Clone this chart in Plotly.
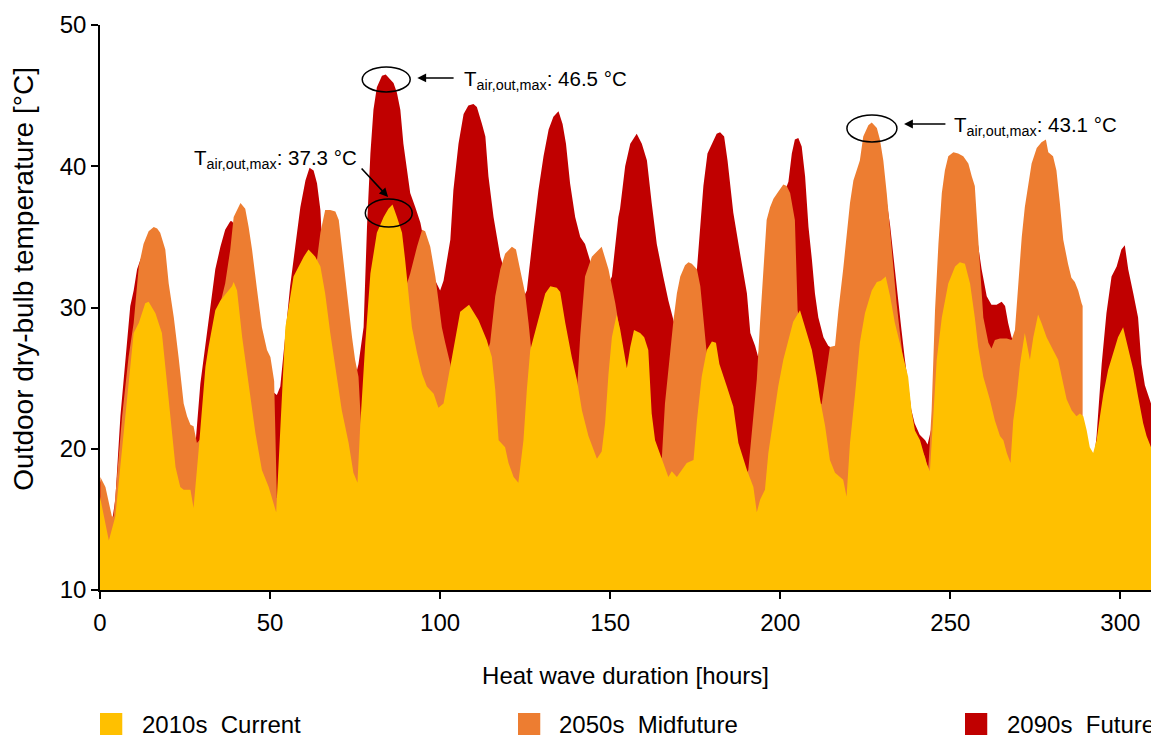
import plotly.graph_objects as go

# ---------------- data ----------------
hours_2010 = [0, 2.6, 4.5, 6.5, 8.4, 9.9, 11.4, 13.3, 14.3, 16.3, 18.2, 19.7, 20.7, 22.2, 23.6, 24.6, 26.6, 27.5,
              29.0, 31.0, 31.9, 33.9, 35.4, 37.3, 38.8, 39.3, 40.3, 41.8, 43.7, 45.7, 47.6, 49.6, 51.8,
              54.5, 56.9, 59.9, 61.3, 63.3, 64.8, 66.2, 67.7, 69.7, 71.1, 73.1, 74.5, 75.7, 76.5, 78.0, 79.5,
              81.4, 83.4, 84.8, 86.0, 87.3, 88.8, 89.7, 90.7, 91.7, 93.2, 94.7, 96.1, 98.1, 99.5, 101.0,
              103.5, 105.9, 108.5, 111.3, 113.7, 115.2, 116.2, 117.2, 119.1, 120.1, 121.6, 123.0, 124.5,
              125.5, 126.5, 128.9, 130.9, 132.4, 134.3, 135.3, 136.8, 138.7, 140.2, 141.7, 143.6, 146.1,
              147.5, 148.5, 149.5, 150.5, 151.9, 152.9, 154.9, 155.9, 157.0, 158.8, 160.0, 161.2, 162.2,
              163.2, 165.2, 167.1, 168.1, 169.6, 172.5, 174.5, 175.5, 176.9, 178.4, 179.9, 181.1, 182.1,
              184.3, 186.2, 187.7, 190.2, 192.1, 193.1, 194.1, 195.5, 196.5, 198.0, 199.4, 200.9, 202.4,
              203.8, 205.8, 207.3, 209.3, 210.7, 211.7, 213.2, 214.6, 216.1, 218.5, 219.5, 220.5, 222.0,
              223.4, 224.9, 226.9, 228.4, 229.6, 231.0, 232.3, 233.7, 235.7, 237.6, 238.6, 239.6, 241.1,
              243.0, 244.0, 245.0, 246.0, 247.5, 249.4, 251.4, 252.8, 254.3, 255.8, 257.2, 258.2, 259.7,
              261.6, 263.1, 264.6, 265.6, 266.6, 267.7, 268.5, 269.5, 270.5, 271.9, 272.6, 273.4, 274.4,
              275.8, 276.8, 278.3, 280.2, 281.7, 283.2, 284.2, 285.7, 287.1, 288.1, 289.1, 290.1, 291.0,
              292.0, 293.0, 294.0, 295.0, 296.4, 297.9, 299.3, 300.8, 302.3, 303.8, 305.2, 306.7, 307.7, 309.0]
temp_2010 = [16.6, 13.5, 15.2, 19.9, 24.6, 28.2, 28.9, 30.3, 30.4, 29.6, 28.2, 24.6, 21.8, 18.7, 17.3, 17.1, 17.1, 15.8,
             19.9, 25.8, 27.2, 29.8, 30.5, 31.1, 31.5, 31.8, 31.2, 27.9, 24.6, 21.1, 18.5, 17.3, 15.5,
             28.6, 32.2, 33.6, 34.1, 33.6, 32.9, 31.0, 28.2, 25.1, 22.7, 20.4, 18.3, 17.6, 21.6, 27.5, 32.4,
             35.3, 36.4, 37.0, 37.3, 36.4, 35.3, 33.4, 31.0, 28.6, 26.8, 25.3, 24.4, 23.9, 22.9, 23.2,
             26.5, 29.7, 30.2, 29.1, 27.7, 26.5, 24.2, 20.6, 20.1, 19.0, 18.0, 17.6, 20.6,
             24.2, 27.0, 29.3, 31.0, 31.5, 31.4, 31.1, 28.9, 26.5, 24.9, 22.7, 20.9, 19.3,
             19.8, 21.8, 25.3, 27.9, 29.5, 28.5, 25.7, 27.2, 28.4, 28.2, 27.9, 27.0, 22.5,
             20.6, 19.2, 18.0, 18.4, 18.0, 19.0, 19.2, 22.0, 25.1, 27.0, 27.6, 27.5, 26.0,
             24.4, 23.0, 20.4, 18.5, 17.3, 15.5, 16.4, 17.1, 19.7, 22.0, 24.4, 26.3, 27.7,
             29.0, 29.8, 28.6, 27.0, 25.1, 23.5, 21.6, 19.2, 18.3, 17.8, 16.6, 20.4, 23.9,
             27.5, 29.6, 31.2, 31.8, 31.9, 32.2, 30.8, 28.9, 27.0, 25.1, 22.7, 21.3, 20.6,
             19.0, 18.4, 22.7, 26.3, 29.3, 31.7, 32.9, 33.2, 33.1, 31.7, 29.3, 27.2, 25.1,
             23.5, 22.0, 20.9, 20.6, 19.7, 19.0, 22.0, 23.7, 26.0, 28.2, 27.2, 26.3, 27.9,
             29.5, 28.9, 27.9, 27.0, 26.3, 24.6, 23.5, 22.7, 22.3, 22.5, 22.3, 21.3, 20.1,
             19.7, 20.6, 22.3, 23.9, 25.6, 26.8, 27.9, 28.6, 27.2, 25.6, 23.7, 21.8, 20.9, 20.1]

hours_2050 = [0.1, 1.6, 3.5, 4.0, 6.5, 8.4, 9.9, 11.4, 12.8, 14.3, 15.8, 16.8, 17.7, 19.2, 20.2, 21.7, 23.1, 24.6,
              25.6, 26.6, 27.5, 28.5, 31.0, 32.9, 34.9, 36.8, 38.3, 39.3, 41.3, 42.7, 43.7, 44.7, 46.2, 47.6,
              49.1, 50.1, 51.2, 52.0, 53.5, 55.0, 58.0, 61.0, 63.0, 63.8, 64.8, 66.2, 67.7, 69.2, 70.2, 71.1,
              72.1, 73.1, 74.1, 75.0, 76.0, 77.0, 79.0, 82.0, 85.0, 88.0, 90.0, 91.2, 93.2, 94.7, 95.6, 97.1,
              98.6, 99.5, 100.5, 101.5, 103.0, 104.0, 106.0, 109.0, 112.0, 114.0, 114.7, 116.2, 117.7, 119.1,
              121.1, 122.3, 123.5, 125.0, 126.0, 127.0, 129.0, 132.0, 135.0, 137.5, 139.5, 140.2, 141.2,
              142.6, 144.6, 147.5, 149.5, 151.5, 153.4, 154.4, 155.5, 158.0, 161.0, 162.5, 164.0, 165.2,
              166.1, 167.6, 168.6, 169.6, 170.6, 172.0, 173.0, 174.0, 175.5, 176.5, 177.4, 178.2, 179.0,
              181.0, 183.0, 185.0, 187.0, 189.0, 190.6, 191.6, 193.1, 194.1, 195.0, 196.0, 197.0, 198.0,
              199.4, 200.9, 201.9, 202.9, 204.3, 205.1, 206.5, 208.0, 210.0, 211.5, 212.2, 214.6, 216.1,
              217.1, 218.5, 219.5, 220.5, 221.5, 222.5, 223.4, 224.4, 225.9, 226.9, 228.4, 229.3, 230.3,
              231.3, 232.3, 233.2, 234.2, 235.2, 236.2, 237.2, 238.1, 239.1, 240.6, 242.6, 243.5, 244.5,
              245.5, 246.5, 247.5, 248.4, 249.4, 250.9, 252.3, 253.8, 255.3, 256.3, 257.2, 257.7, 258.7,
              259.7, 261.2, 262.1, 263.1, 264.6, 266.6, 268.0, 269.0, 270.0, 271.0, 271.9, 272.9, 273.9,
              275.4, 276.8, 278.1, 278.8, 280.2, 281.2, 282.2, 283.2, 284.6, 285.6, 286.6, 287.6, 288.6, 288.9]
temp_2050 = [18.0, 17.3, 15.2, 15.2, 22.3, 26.5, 28.9, 32.9, 34.5, 35.4, 35.7, 35.6, 35.3, 34.1, 31.7, 29.3, 26.5, 23.2,
             22.3, 21.7, 21.6, 20.4, 21.1, 25.8, 29.8, 31.7, 34.1, 36.4, 37.4, 37.0, 35.7, 34.1, 31.2, 28.6,
             27.0, 26.5, 24.8, 16.5, 17.0, 26.0, 31.0, 32.8, 33.0, 33.4, 35.3, 36.9, 36.9, 36.8, 36.2, 34.3,
             32.2, 29.8, 27.9, 26.3, 25.1, 20.5, 26.0, 33.0, 35.0, 33.5, 31.5, 32.4, 34.3, 35.5, 35.4, 34.3,
             32.2, 30.5, 28.6, 27.5, 26.0, 24.0, 27.0, 28.5, 27.6, 27.0, 27.5, 30.8, 32.7, 33.8,
             34.3, 34.1, 32.7, 31.0, 28.9, 26.5, 27.5, 29.5, 29.5, 26.5, 23.5, 24.0, 28.0,
             32.2, 33.6, 34.3, 32.7, 30.3, 27.5, 26.0, 25.0, 26.5, 25.5, 21.0, 19.0, 19.4,
             23.2, 26.8, 29.1, 31.0, 32.2, 33.0, 33.2, 33.1, 32.7, 31.5, 29.1, 27.2, 25.5,
             26.0, 24.0, 22.0, 19.5, 17.5, 18.5, 21.3, 24.9, 29.1, 32.7, 36.2, 37.1, 37.7,
             38.2, 38.7, 38.6, 38.1, 36.2, 29.8, 28.0, 27.5, 25.5, 23.0, 23.2, 27.2, 27.3,
             29.8, 32.7, 35.3, 37.4, 39.0, 39.7, 40.4, 42.1, 42.9, 43.1, 42.7, 41.9, 40.4,
             38.1, 35.3, 32.7, 30.3, 28.2, 26.0, 23.9, 22.3, 21.3, 20.4, 19.4, 18.5, 22.7,
             29.8, 34.5, 38.1, 39.7, 40.7, 41.0, 40.9, 40.7, 40.2, 39.3, 38.6, 36.7, 33.1,
             29.3, 27.5, 27.1, 27.7, 27.8, 27.8, 27.7, 28.4, 31.9, 35.0, 37.1, 38.8, 40.2,
             41.3, 41.7, 41.9, 41.0, 40.7, 39.7, 37.4, 34.8, 33.1, 32.1, 31.8, 31.2, 30.3, 30.1]

hours_2090 = [0, 1.5, 3.5, 4.5, 6.0, 7.5, 8.9, 9.9, 10.9, 11.9, 13.0, 15.0, 17.0, 19.0, 21.0, 23.0, 25.0, 27.0,
              28.0, 29.5, 31.0, 32.4, 33.9, 35.4, 36.8, 38.3, 38.8, 40.5, 43.0, 46.0, 49.0, 51.0, 52.0, 53.0,
              54.5, 55.9, 57.4, 58.9, 60.4, 61.6, 62.8, 63.8, 64.8, 65.3, 66.5, 69.0, 72.0, 74.0, 75.5, 76.0,
              77.5, 78.5, 79.5, 80.4, 81.4, 82.9, 84.0, 85.3, 86.3, 87.3, 88.3, 89.2, 90.2, 91.2, 92.7, 94.2,
              95.6, 97.1, 98.6, 100.0, 101.0, 102.0, 103.0, 103.9, 105.4, 106.9, 108.3, 109.8, 110.8, 112.3,
              113.3, 114.2, 115.7, 116.7, 117.7, 118.6, 120.0, 122.0, 124.0, 125.5, 126.5, 127.5, 128.9,
              130.4, 131.9, 133.3, 134.8, 136.0, 137.0, 138.2, 139.7, 141.2, 142.6, 143.6, 144.6, 146.5,
              148.5, 150.5, 152.4, 152.9, 154.4, 155.9, 157.8, 159.3, 160.8, 162.2, 163.7, 165.6, 167.1,
              168.6, 170.0, 172.0, 174.0, 175.5, 176.5, 177.4, 178.6, 179.9, 181.3, 182.3, 183.5, 184.5,
              186.2, 188.2, 190.2, 191.2, 192.6, 193.5, 195.0, 197.0, 199.0, 201.0, 202.4, 203.4, 204.3,
              205.3, 206.3, 207.3, 208.3, 209.3, 210.2, 211.2, 212.7, 214.1, 216.0, 218.0, 220.0, 223.0,
              226.0, 229.0, 231.0, 232.3, 233.5, 234.5, 235.5, 236.5, 237.5, 238.5, 239.5, 241.0, 242.6,
              243.3, 244.5, 246.0, 249.0, 252.0, 255.0, 257.5, 259.2, 260.7, 262.1, 263.6, 265.1, 266.1,
              267.0, 268.0, 268.5, 270.0, 273.0, 276.0, 279.0, 282.0, 285.0, 287.0, 288.9, 290.0, 291.5,
              292.5, 293.0, 294.5, 295.9, 297.4, 298.9, 300.3, 301.3, 302.3, 303.8, 305.2, 306.2, 307.2, 309.0]
temp_2090 = [17.8, 16.8, 14.8, 16.4, 22.3, 26.5, 30.1, 31.2, 32.7, 33.4, 34.0, 34.8, 34.5, 32.5, 28.5, 25.0, 21.8, 20.5,
             20.1, 24.6, 27.5, 29.8, 32.7, 34.3, 35.5, 36.1, 36.1, 35.5, 33.0, 29.0, 25.5, 24.0, 23.8, 24.4,
             27.9, 31.5, 34.3, 37.1, 39.0, 39.9, 39.7, 38.8, 36.9, 34.5, 33.0, 31.0, 29.0, 26.5, 25.5, 26.0,
             28.6, 35.7, 40.9, 44.0, 45.6, 46.4, 46.5, 46.2, 45.9, 45.2, 44.0, 41.6, 39.7, 38.1, 37.1, 36.0,
             34.3, 32.9, 31.9, 31.2, 31.9, 33.4, 34.8, 38.3, 41.6, 43.7, 44.3, 44.4, 44.2, 43.0,
             42.1, 39.3, 36.4, 35.0, 33.6, 32.9, 32.0, 31.0, 30.5, 31.2, 33.6, 35.5, 38.3,
             40.7, 42.6, 43.5, 43.9, 43.0, 41.6, 38.8, 36.4, 35.0, 34.5, 33.6, 32.9, 31.5,
             31.2, 32.2, 36.4, 37.0, 40.0, 41.6, 42.3, 41.6, 40.4, 37.4, 34.5, 32.2, 30.5,
             29.1, 28.0, 29.0, 30.5, 32.7, 36.2, 38.6, 40.9, 41.6, 42.3, 42.4, 42.1, 40.4,
             36.7, 33.8, 31.0, 28.2, 27.3, 26.5, 29.0, 33.0, 36.0, 38.0, 38.9, 40.9, 41.9,
             42.0, 41.4, 39.3, 35.7, 33.4, 31.0, 29.3, 27.9, 27.3, 27.0, 29.0, 33.0, 37.5,
             39.5, 40.0, 38.0, 35.8, 33.0, 30.8, 28.7, 26.6, 24.5, 22.8, 21.8, 21.0, 20.6,
             20.3, 21.5, 27.0, 36.0, 38.0, 37.5, 35.5, 32.7, 30.8, 30.2, 30.2, 30.4, 30.1,
             28.9, 27.9, 27.7, 27.5, 35.0, 38.0, 38.0, 35.0, 31.0, 27.0, 21.5, 20.5, 19.5,
             19.8, 20.9, 26.0, 29.6, 32.2, 32.9, 34.1, 34.4, 32.7, 31.0, 29.3, 26.0, 24.5, 23.2]

series_names = ["2010s  Current", "2050s  Midfuture", "2090s  Future"]
series_colors = ["#FFC000", "#ED7D31", "#C00000"]

x_ticks = [0, 50, 100, 150, 200, 250, 300]
y_ticks = [10, 20, 30, 40, 50]

FONT = "Liberation Sans, Arial, sans-serif"

fig = go.Figure()
# back to front: 2090s, 2050s, 2010s
for hrs, tmp, name, col in [(hours_2090, temp_2090, series_names[2], series_colors[2]),
                            (hours_2050, temp_2050, series_names[1], series_colors[1]),
                            (hours_2010, temp_2010, series_names[0], series_colors[0])]:
    fig.add_trace(go.Scatter(x=hrs, y=tmp, name=name, mode="lines", fill="tozeroy",
                             fillcolor=col, line=dict(color=col, width=0),
                             showlegend=False, hoverinfo="x+y+name"))

# legend (manual, one coloured square + label per series)
leg_sq_x = [0.0, 0.3977, 0.8230]
leg_txt_x = [0.0381, 0.4348, 0.8611]
for i in range(3):
    fig.add_shape(type="rect", xref="paper", yref="paper",
                  x0=leg_sq_x[i], x1=leg_sq_x[i] + 0.0212, y0=-0.2566, y1=-0.2177,
                  fillcolor=series_colors[i], line=dict(width=0))
    fig.add_annotation(xref="paper", yref="paper", x=leg_txt_x[i], y=-0.2389,
                       text=series_names[i].replace("  ", "&nbsp; "), showarrow=False,
                       xanchor="left", yanchor="middle",
                       font=dict(family=FONT, size=24, color="black"))

# y-axis title placed as rotated text (it sits above the centre of the axis in the reference)
fig.add_annotation(xref="paper", yref="paper", x=-0.0723, y=0.551, text="Outdoor dry-bulb temperature [°C]",
                   textangle=-90, showarrow=False, xanchor="center", yanchor="middle",
                   font=dict(family=FONT, size=28, color="black"))

# call-outs
ellipse_style = dict(type="circle", xref="x", yref="y", line=dict(color="black", width=1.5),
                     fillcolor="rgba(0,0,0,0)", layer="above")
fig.add_shape(x0=77.1, x1=91.2, y0=45.26, y1=47.03, **ellipse_style)
fig.add_shape(x0=78.0, x1=91.8, y0=35.70, y1=37.68, **ellipse_style)
fig.add_shape(x0=219.6, x1=234.3, y0=41.72, y1=43.63, **ellipse_style)

arrow_style = dict(showarrow=True, arrowhead=2, arrowsize=1.1, arrowwidth=1.6, arrowcolor="black",
                   xref="x", yref="y", axref="x", ayref="y", text="")
fig.add_annotation(x=93.3, y=46.25, ax=104.4, ay=46.25, **arrow_style)
fig.add_annotation(x=84.7, y=37.82, ax=76.5, ay=39.95, **arrow_style)
fig.add_annotation(x=236.4, y=42.99, ax=249.0, ay=42.99, **arrow_style)

label_font = dict(family=FONT, size=20.5, color="black")
fig.add_annotation(x=106.3, y=46.1, text="T<sub>air,out,max</sub>: 46.5 °C", showarrow=False,
                   xanchor="left", yanchor="middle", font=label_font)
fig.add_annotation(x=76.2, y=40.5, text="T<sub>air,out,max</sub>: 37.3 °C", showarrow=False,
                   xanchor="right", yanchor="middle", font=label_font)
fig.add_annotation(x=250.6, y=42.85, text="T<sub>air,out,max</sub>: 43.1 °C", showarrow=False,
                   xanchor="left", yanchor="middle", font=label_font)

axis_common = dict(showline=True, linecolor="black", linewidth=1.5, ticks="outside", ticklen=7,
                   tickwidth=1.5, tickcolor="black", showgrid=False, zeroline=False, automargin=False,
                   tickfont=dict(family=FONT, size=24, color="black"))
fig.update_xaxes(range=[0, 309], tickvals=x_ticks, ticklabelstandoff=3,
                 title=dict(text="Heat wave duration [hours]", standoff=33,
                            font=dict(family=FONT, size=24, color="black")), **axis_common)
fig.update_yaxes(range=[10, 50], tickvals=y_ticks, ticklabelstandoff=0, **axis_common)

fig.update_layout(width=1151, height=737, margin=dict(l=100, r=0, t=25, b=147),
                  plot_bgcolor="white", paper_bgcolor="white",
                  font=dict(family=FONT, size=24, color="black"), showlegend=False)

# remove the page's default 8 px body margin so the 1151x737 figure fills the window exactly
fig.write_html("out.html", config={"displayModeBar": False},
               post_script="document.body.style.margin='0';document.body.style.overflow='hidden';")
